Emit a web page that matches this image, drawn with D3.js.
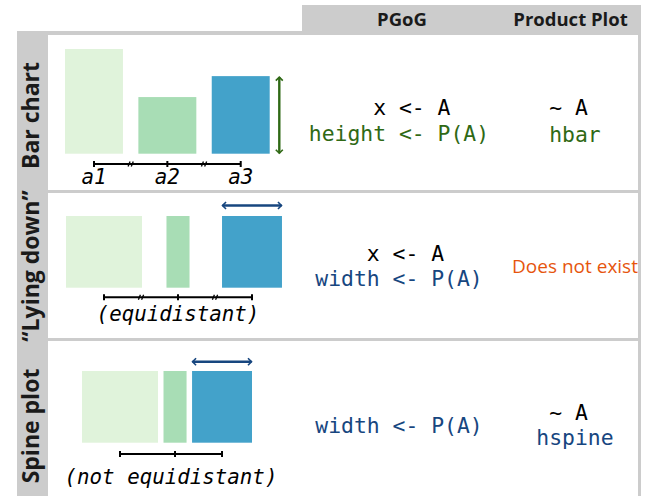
<!DOCTYPE html>
<html>
<head>
<meta charset="utf-8">
<script src="https://cdn.jsdelivr.net/npm/d3@7"></script>
<style>
  body { margin: 0; background: #fff; }
  .mono { font-family: "DejaVu Sans Mono", monospace; white-space: pre; }
  .sans { font-family: "Open Sans", sans-serif; }
</style>
</head>
<body>
<svg width="647" height="496"></svg>
<script>
// data
var categories = ["a1", "a2", "a3"],
    barColors = ["#e0f3db", "#a8ddb5", "#43a2ca"],
    heightP = [0.44, 0.238, 0.326],   // bar chart: height <- P(A)
    widthP = [0.478, 0.145, 0.377];   // lying down / spine: width <- P(A)

var rowLabels = ["Bar chart", "\u201cLying down\u201d", "Spine plot"],
    colLabels = ["PGoG", "Product Plot"];

var pgogLines = [
    ["     x <- A", "height <- P(A)"],
    ["    x <- A", "width <- P(A)"],
    ["width <- P(A)"]
];
var productLines = [
    ["~ A", "hbar"],
    ["Does not exist"],
    [" ~ A", "hspine"]
];
var axisNotes = [null, "(equidistant)", "(not equidistant)"];

var grey = "#cccccc",
    green = "#2f6915",
    blue = "#17467f",
    orange = "#e6550d";

var svg = d3.select("svg");

// grey frame, header strip and white panels
var rows = [[35, 190], [193, 338], [341, 511]];

svg.append("rect").attr("x", 17).attr("y", 31).attr("width", 624).attr("height", 480).attr("fill", grey);
svg.append("rect").attr("x", 302).attr("y", 5).attr("width", 339).attr("height", 30).attr("fill", grey);
svg.selectAll(".panel")
    .data(rows)
    .enter().append("rect")
    .attr("class", "panel")
    .attr("x", 48)
    .attr("y", function (d) { return d[0]; })
    .attr("width", 590)
    .attr("height", function (d) { return d[1] - d[0]; })
    .attr("fill", "#fff");

// column headers
var headerX = d3.scalePoint().domain(colLabels).range([402, 570.5]);
svg.selectAll(".colLabel")
    .data(colLabels)
    .enter().append("text")
    .attr("class", "sans")
    .attr("x", function (d) { return headerX(d); })
    .attr("y", 26)
    .attr("text-anchor", "middle")
    .attr("font-weight", "bold")
    .attr("font-size", "18.5px")
    .attr("fill", "#1a1a1a")
    .text(function (d) { return d; });

// row strip labels
var labelY = [115.5, 266, 426];
svg.selectAll(".rowLabel")
    .data(rowLabels)
    .enter().append("text")
    .attr("class", "sans")
    .attr("transform", function (d, i) { return "translate(38.5," + labelY[i] + ") rotate(-90)"; })
    .attr("text-anchor", "middle")
    .attr("font-weight", "bold")
    .attr("font-size", "23px")
    .attr("fill", "#1a1a1a")
    .text(function (d) { return d; });

// arrow markers
function addMarker(id, color) {
    svg.append("defs").append("marker")
        .attr("id", id)
        .attr("viewBox", "-6 -6 12 12")
        .attr("markerWidth", 12)
        .attr("markerHeight", 12)
        .attr("markerUnits", "userSpaceOnUse")
        .attr("orient", "auto-start-reverse")
        .append("path")
        .attr("d", "M-3.5,-3.5L0,0L-3.5,3.5")
        .attr("fill", "none")
        .attr("stroke", color)
        .attr("stroke-width", 1.6);
}
addMarker("arrowGreen", green);
addMarker("arrowBlue", blue);

function arrow(x1, y1, x2, y2, color, id) {
    svg.append("line")
        .attr("x1", x1).attr("y1", y1).attr("x2", x2).attr("y2", y2)
        .attr("stroke", color)
        .attr("stroke-width", 2.4)
        .attr("marker-start", "url(#" + id + ")")
        .attr("marker-end", "url(#" + id + ")");
}

// axis line with ticks at the given positions and // breaks between them
function axisLine(xs, y, breaks) {
    var g = svg.append("g").attr("stroke", "#000");
    g.append("line")
        .attr("x1", xs[0]).attr("x2", xs[xs.length - 1])
        .attr("y1", y).attr("y2", y)
        .attr("stroke-width", 2);
    g.selectAll(".tick")
        .data(xs)
        .enter().append("line")
        .attr("x1", function (d) { return d; }).attr("x2", function (d) { return d; })
        .attr("y1", y - 3).attr("y2", y + 3)
        .attr("stroke-width", 2);
    if (breaks) {
        d3.pairs(xs).forEach(function (p) {
            var m = (p[0] + p[1]) / 2;
            [-1.6, 1.6].forEach(function (o) {
                g.append("line")
                    .attr("x1", m + o - 1).attr("y1", y + 2.5)
                    .attr("x2", m + o + 1).attr("y2", y - 2.5)
                    .attr("stroke-width", 1.3);
            });
        });
    }
}

// row 1: bar chart
var x1 = d3.scaleBand().domain(categories).range([65, 269.7]).paddingInner(0.21),
    y1 = d3.scaleLinear().domain([0, 0.44]).range([153.7, 49]);

svg.selectAll(".bar1")
    .data(categories)
    .enter().append("rect")
    .attr("x", function (d) { return x1(d); })
    .attr("y", function (d, i) { return y1(heightP[i]); })
    .attr("width", x1.bandwidth())
    .attr("height", function (d, i) { return y1(0) - y1(heightP[i]); })
    .attr("fill", function (d, i) { return barColors[i]; });

arrow(x1("a3") + x1.bandwidth() + 9.6, y1(heightP[2]) + 1, x1("a3") + x1.bandwidth() + 9.6, y1(0) - 0.5, green, "arrowGreen");

var centers1 = categories.map(function (c) { return x1(c) + x1.bandwidth() / 2; });
axisLine(centers1, 164, true);
svg.selectAll(".catLabel")
    .data(categories)
    .enter().append("text")
    .attr("class", "mono")
    .attr("x", function (d, i) { return centers1[i]; })
    .attr("y", 183.5)
    .attr("text-anchor", "middle")
    .attr("font-style", "italic")
    .attr("font-size", "20.8px")
    .text(function (d) { return d; });

// width scale shared by rows 2 and 3
var w = d3.scaleLinear().domain([0, 1]).range([0, 159]);

// row 2: lying down, equidistant centers
var x2 = d3.scalePoint().domain(categories).range([104, 252]);
svg.selectAll(".bar2")
    .data(categories)
    .enter().append("rect")
    .attr("x", function (d, i) { return x2(d) - w(widthP[i]) / 2; })
    .attr("y", 216)
    .attr("width", function (d, i) { return w(widthP[i]); })
    .attr("height", 71.7)
    .attr("fill", function (d, i) { return barColors[i]; });

arrow(x2("a3") - w(widthP[2]) / 2 + 0.5, 205.5, x2("a3") + w(widthP[2]) / 2 - 0.5, 205.5, blue, "arrowBlue");
axisLine(categories.map(function (c) { return x2(c); }), 297.3, true);

// row 3: spine plot, bars stacked side by side
var gap = 5.5, left = 82, spineX = [];
widthP.forEach(function (p) { spineX.push(left); left += w(p) + gap; });

svg.selectAll(".bar3")
    .data(categories)
    .enter().append("rect")
    .attr("x", function (d, i) { return spineX[i]; })
    .attr("y", 371)
    .attr("width", function (d, i) { return w(widthP[i]); })
    .attr("height", 71.7)
    .attr("fill", function (d, i) { return barColors[i]; });

arrow(spineX[2] + 0.5, 361.7, spineX[2] + w(widthP[2]) - 0.5, 361.7, blue, "arrowBlue");
axisLine(spineX.map(function (x, i) { return x + w(widthP[i]) / 2; }), 454, false);

// axis notes
var noteX = [null, 178, 171],
    noteY = [null, 320.5, 484];
axisNotes.forEach(function (t, i) {
    if (!t) return;
    svg.append("text")
        .attr("class", "mono")
        .attr("x", noteX[i])
        .attr("y", noteY[i])
        .attr("text-anchor", "middle")
        .attr("font-style", "italic")
        .attr("font-size", "20.8px")
        .text(t);
});

// PGoG and Product Plot text blocks (left aligned lines, block centered)
var charW = 21.4 * 0.602;
var pgogColors = [["#000", green], ["#000", blue], [blue]],
    pgogY = [[114.7, 141], [261, 286], [433.3]],
    prodColors = [["#000", green], [orange], ["#000", blue]],
    prodY = [[114.7, 141.9], [273], [419.7, 445]];

function textBlock(lines, colors, ys, cx) {
    var maxLen = d3.max(lines, function (l) { return l.length; }),
        x0 = cx - maxLen * charW / 2;
    lines.forEach(function (l, j) {
        svg.append("text")
            .attr("class", "mono")
            .attr("x", x0)
            .attr("y", ys[j])
            .attr("font-size", "21.4px")
            .attr("fill", colors[j])
            .text(l);
    });
}

pgogLines.forEach(function (lines, i) { textBlock(lines, pgogColors[i], pgogY[i], 399); });
productLines.forEach(function (lines, i) {
    if (lines[0] === "Does not exist") {
        svg.append("text")
            .attr("class", "sans")
            .attr("x", 575)
            .attr("y", prodY[i][0])
            .attr("text-anchor", "middle")
            .attr("font-size", "19px")
            .attr("fill", prodColors[i][0])
            .text(lines[0]);
    } else {
        textBlock(lines, prodColors[i], prodY[i], 575);
    }
});
</script>
</body>
</html>
